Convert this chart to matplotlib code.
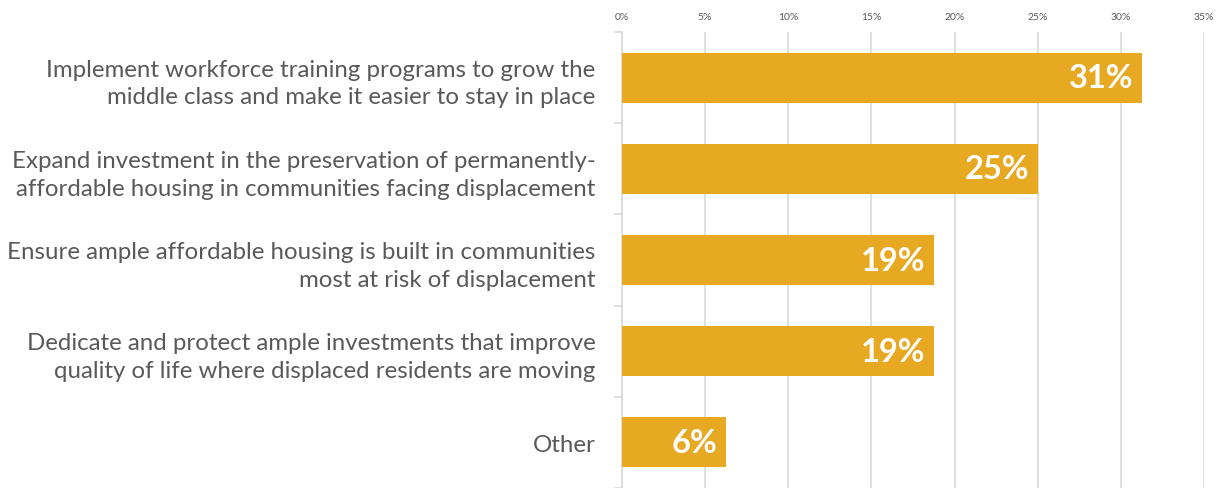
import numpy as np
import matplotlib.pyplot as plt
from matplotlib.ticker import FixedLocator, PercentFormatter

# Respuestas por opción (fracción de encuestados)
categorias = [
    "Implement workforce training programs to grow the\nmiddle class and make it easier to stay in place",
    "Expand investment in the preservation of permanently-\naffordable housing in communities facing displacement",
    "Ensure ample affordable housing is built in communities\nmost at risk of displacement",
    "Dedicate and protect ample investments that improve\nquality of life where displaced residents are moving",
    "Other",
]
valores = [31.25, 25.0, 18.75, 18.75, 6.25]
etiquetas = ["31%", "25%", "19%", "19%", "6%"]
ticks_x = [0, 5, 10, 15, 20, 25, 30, 35]

color_barra = "#E8A922"
gris_texto = "#595959"
gris_linea = "#D9D9D9"

plt.rcParams['font.family'] = ['Lato', 'DejaVu Sans']

fig = plt.figure(figsize=(12.26, 4.89), dpi=100)
ax = fig.add_axes([0.5073, 0.0, 0.4747, 0.9325])

y = np.arange(len(categorias))
ax.barh(y, valores, height=0.55, color=color_barra, zorder=3)

# etiquetas de valor dentro de cada barra
for yi, v, t in zip(y, valores, etiquetas):
    ax.text(v - 0.5, yi, t, ha='right', va='center', color='white',
            fontsize=23.5, fontweight='bold', zorder=4)

ax.set_xlim(0, 35)
ax.set_ylim(len(categorias) - 0.5, -0.5)
ax.xaxis.tick_top()
ax.set_xticks(ticks_x)
ax.xaxis.set_major_formatter(PercentFormatter(decimals=0))
ax.tick_params(axis='x', length=0, labelsize=7.5, labelcolor=gris_texto, pad=8)
ax.grid(axis='x', color=gris_linea, linewidth=1.2, zorder=0)

# categorías en el eje y, marcas en los límites entre categorías
ax.set_yticks(y)
ax.set_yticklabels(categorias, fontsize=17.3, color=gris_texto, linespacing=1.4)
ax.yaxis.set_minor_locator(FixedLocator(np.arange(-0.5, len(categorias), 1.0)))
ax.tick_params(axis='y', which='major', length=0, pad=19)
ax.tick_params(axis='y', which='minor', length=6, color=gris_linea, width=1.2)

for lado in ['top', 'right', 'bottom']:
    ax.spines[lado].set_visible(False)
ax.spines['left'].set_color(gris_linea)
ax.spines['left'].set_linewidth(1.2)

fig.savefig("out.png", dpi=100)
